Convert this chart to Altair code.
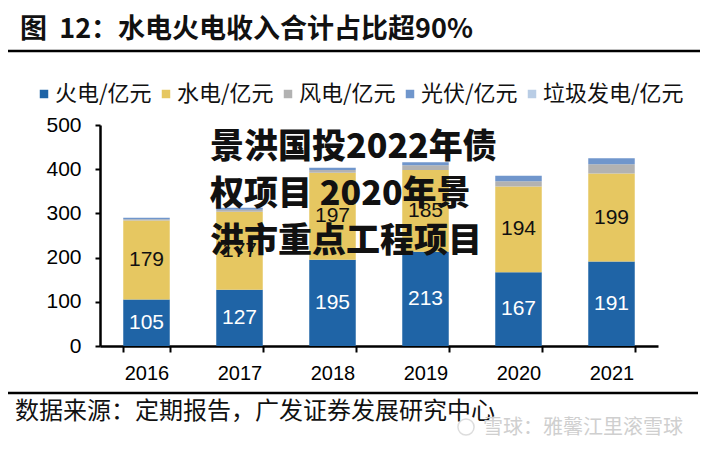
import altair as alt
import pandas as pd

years = ["2016", "2017", "2018", "2019", "2020", "2021"]
series = ["火电/亿元", "水电/亿元", "风电/亿元", "光伏/亿元", "垃圾发电/亿元"]
thermal = [105, 127, 195, 213, 167, 191]
hydro = [179, 177, 197, 185, 194, 199]
wind = [3, 4, 6, 11, 12, 21]
solar = [3, 5, 5, 7, 12, 14]
waste = [0, 0, 0, 0, 0, 0]
colors = ["#1F64A6", "#E6C761", "#B2B2B2", "#7096CC", "#B9CDE5"]

title_text = "图\u00a0\u00a012：水电火电收入合计占比超90%"
source_text = "数据来源：定期报告，广发证券发展研究中心"
overlay_lines = ["景洪国投2022年债", "权项目 2020年景", "洪市重点工程项目"]
watermark_text = "雪球：雅馨江里滚雪球"

rows = []
for i, y in enumerate(years):
    base = 0
    for j, (name, vals) in enumerate(zip(series, [thermal, hydro, wind, solar, waste])):
        v = vals[i]
        rows.append({"year": y, "series": name, "value": v, "order": j,
                     "mid": base + v / 2, "label": str(v)})
        base += v
df = pd.DataFrame(rows)

FONT_CJK = "Noto Sans CJK SC"
FONT_NUM = "Liberation Sans"

x_enc = alt.X("year:N", title=None, sort=years,
              scale=alt.Scale(paddingInner=0.5, paddingOuter=0.25),
              axis=alt.Axis(labelAngle=0, tickBand="extent", tickSize=6, tickWidth=2,
                            tickColor="black", domainColor="black", domainWidth=2.5,
                            labelFont=FONT_NUM, labelFontSize=20, labelColor="black",
                            labelPadding=11))

bars = alt.Chart(df).mark_bar().encode(
    x=x_enc,
    y=alt.Y("sum(value):Q", title=None, stack="zero",
            scale=alt.Scale(domain=[0, 500], nice=False),
            axis=alt.Axis(values=[0, 100, 200, 300, 400, 500], grid=False,
                          tickSize=5, tickWidth=2, tickColor="black",
                          domainColor="black", domainWidth=2.5,
                          labelFont=FONT_NUM, labelFontSize=21, labelColor="black",
                          labelPadding=14)),
    color=alt.Color("series:N", sort=series,
                    scale=alt.Scale(domain=series, range=colors),
                    legend=alt.Legend(orient="none", legendX=-67, legendY=-42,
                                      direction="horizontal", title=None,
                                      symbolType="square", symbolSize=72,
                                      symbolStrokeWidth=0, labelFont=FONT_CJK,
                                      labelFontSize=22, labelColor="#111",
                                      labelOffset=0, columnPadding=3)),
    order=alt.Order("order:Q", sort="ascending"),
)

lab_df_filter = alt.FieldOneOfPredicate(field="series", oneOf=series[:2])
labels = alt.Chart(df).transform_filter(lab_df_filter).mark_text(
    font=FONT_NUM, fontSize=21, baseline="middle", align="center"
).encode(
    x=alt.X("year:N", sort=years),
    y=alt.Y("mid:Q"),
    text="label:N",
    color=alt.Color("series:N", scale=alt.Scale(domain=series[:2], range=["white", "#111"]),
                    legend=None),
)

def txt(s, x, y, **kw):
    return alt.Chart(pd.DataFrame({"t": [s]})).mark_text(**kw).encode(
        x=alt.value(x), y=alt.value(y), text="t:N")

title = txt(title_text, -80, -95, font=FONT_CJK, fontSize=27, fontWeight="bold",
            align="left", baseline="middle", color="#111")
source = txt(source_text, -85, 287, font=FONT_CJK, fontSize=24,
             align="left", baseline="middle", color="#111")
wm = txt(watermark_text, 383, 303, font=FONT_CJK, fontSize=20,
         align="left", baseline="middle", color="#cfcfcf")
overlay = alt.layer(*[
    txt(line, 110, 23 + 47 * k, font=FONT_CJK, fontSize=34, fontWeight=900,
        align="left", baseline="middle", color="#111")
    for k, line in enumerate(overlay_lines)
])

rule_df = pd.DataFrame({"k": [1]})
top_rule = alt.Chart(rule_df).mark_rule(color="black", strokeWidth=2.5).encode(
    x=alt.value(-97), x2=alt.value(600), y=alt.value(-74))
bottom_rule = alt.Chart(rule_df).mark_rule(color="black", strokeWidth=2.5).encode(
    x=alt.value(-97), x2=alt.value(598), y=alt.value(268))
logo = alt.Chart(rule_df).mark_point(shape="circle", filled=False, color="#cfcfcf",
                                     strokeWidth=1.5, size=260).encode(
    x=alt.value(366), y=alt.value(302))

chart = alt.layer(bars, labels, title, top_rule, bottom_rule, source, wm, logo, overlay).resolve_scale(
    color="independent"
).properties(
    width=558, height=221,
    autosize=alt.AutoSizeParams(type="none"),
    padding={"left": 92, "top": 117, "right": 43, "bottom": 95},
).configure_view(stroke=None)

chart.save("out.html", embed_options={"renderer": "svg", "actions": False})
